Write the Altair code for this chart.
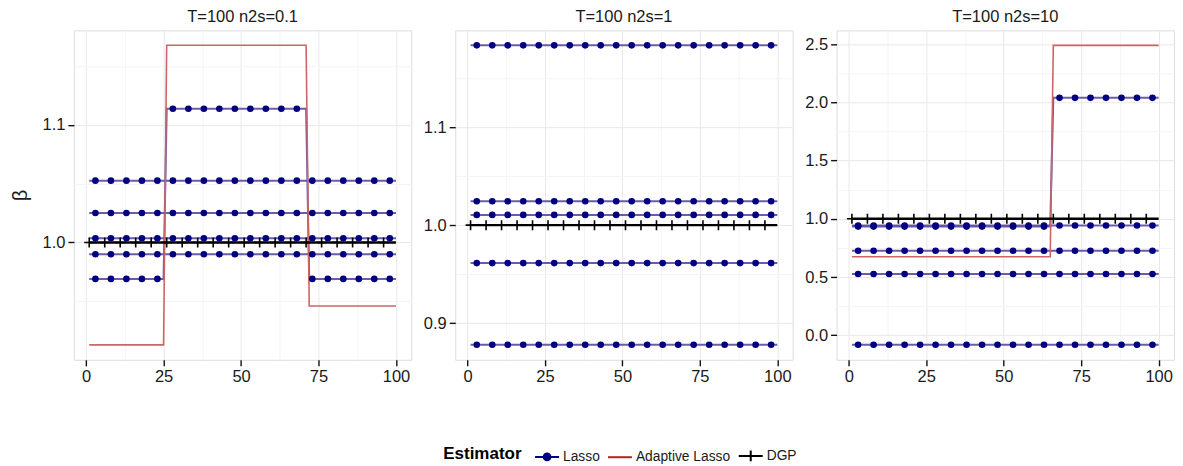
import altair as alt
import pandas as pd

# ---------------- data ----------------
PANELS = ["T=100 n2s=0.1", "T=100 n2s=1", "T=100 n2s=10"]
ESTIMATORS = ["Lasso", "Adaptive Lasso", "DGP"]

T_FIRST = 1
T_LAST = 100

# step paths: list of (first period of segment, value); a segment lasts until the next one starts
LASSO_P1 = [
    [(1, 0.969), (26, 1.1136), (72, 0.969)],
    [(1, 1.0525)],
    [(1, 1.025)],
    [(1, 1.0035)],
    [(1, 0.990)],
]
ADAPTIVE_P1 = [(1, 0.913), (26, 1.1675), (72, 0.946)]

LASSO_P2 = [
    [(1, 1.1834)],
    [(1, 1.0244)],
    [(1, 1.0105)],
    [(1, 0.9613)],
    [(1, 0.878)],
]
ADAPTIVE_P2 = []  # coincides with the Lasso paths

LASSO_P3 = [
    [(1, 0.933), (66, 2.038)],
    [(1, 0.942)],
    [(1, 0.725)],
    [(1, 0.526)],
    [(1, -0.082)],
]
ADAPTIVE_P3 = [(1, 0.674), (66, 2.489)]

DGP_VALUE = 1.0

LASSO_MARKER_T = [3, 8, 13, 18, 23, 28, 33, 38, 43, 48, 53, 58, 63, 68, 73, 78, 83, 88, 93, 98]
DGP_MARKER_T = [1, 6, 11, 16, 21, 26, 31, 36, 41, 46, 51, 56, 61, 66, 71, 76, 81, 86, 91, 96]

LASSO_PATHS = [LASSO_P1, LASSO_P2, LASSO_P3]
ADAPTIVE_PATHS = [ADAPTIVE_P1, ADAPTIVE_P2, ADAPTIVE_P3]

X_DOMAIN = [-3.95, 104.95]
X_MAJOR = [0, 25, 50, 75, 100]
X_MINOR = [12.5, 37.5, 62.5, 87.5]

Y_DOMAINS = [[0.9003, 1.1802], [0.8627, 1.1987], [-0.2106, 2.6176]]
Y_MAJOR = [[1.0, 1.1], [0.9, 1.0, 1.1], [0.0, 0.5, 1.0, 1.5, 2.0, 2.5]]
Y_MINOR = [[0.95, 1.05, 1.15], [0.95, 1.05, 1.15], [0.25, 0.75, 1.25, 1.75, 2.25]]

# ---------------- styling ----------------
FONT = "Liberation Sans"
LASSO_LINE = "#5a4a9e"
LASSO_POINT = "#000080"
ADAPTIVE_LINE = "#cc6666"
LEGEND_COLORS = ["#000080", "#b22222", "#000000"]
LEGEND_SHAPES = [
    "M-1,0H1M0.28,0A0.28,0.28 0 1,1 -0.28,0A0.28,0.28 0 1,1 0.28,0Z",
    "M-1,0H1",
    "M-1,0H1M0,-0.45V0.45",
]
CROSS = "M-1,0H1M0,-1V1"
MAJOR_GRID = "#e8e8e8"
MINOR_GRID = "#f4f4f4"


def step_vertices(path):
    out = []
    for i, (start, v) in enumerate(path):
        end = path[i + 1][0] - 1 if i + 1 < len(path) else T_LAST
        out.append((start, v))
        out.append((end, v))
    return out


def step_value(path, t):
    v = path[0][1]
    for start, val in path:
        if t >= start:
            v = val
    return v


def make_axis(majors, minors, fmt, title=None):
    test = "indexof(" + str(list(majors)) + ", datum.value) < 0"
    kw = dict(
        values=sorted(majors + minors),
        format=fmt,
        labelExpr="indexof(" + str(list(majors)) + ", datum.value) >= 0 ? datum.label : ''",
        domain=False,
        ticks=True,
        tickSize=6,
        tickWidth=1.4,
        tickColor="#111111",
        tickOpacity={"condition": {"test": test, "value": 0}, "value": 1},
        grid=True,
        gridColor={"condition": {"test": test, "value": MINOR_GRID}, "value": MAJOR_GRID},
        gridWidth=1,
        labelFont=FONT,
        labelFontSize=16.5,
        labelColor="#1a1a1a",
        labelPadding=3,
    )
    if title is not None:
        kw.update(title=title, titleFont=FONT, titleFontSize=20, titleFontWeight="normal",
                  titleColor="#1a1a1a", titlePadding=12)
    else:
        kw.update(title=None)
    return alt.Axis(**kw)


def panel(i):
    line_rows = []
    pt_rows = []
    for k, path in enumerate(LASSO_PATHS[i]):
        for t, v in step_vertices(path):
            line_rows.append({"t": t, "beta": v, "series": f"L{k}"})
        for t in LASSO_MARKER_T:
            pt_rows.append({"t": t, "beta": step_value(path, t), "series": f"L{k}"})
    lasso_lines = pd.DataFrame(line_rows)
    lasso_pts = pd.DataFrame(pt_rows)

    x = alt.X("t:Q", scale=alt.Scale(domain=X_DOMAIN, nice=False, zero=False),
              axis=make_axis(X_MAJOR, X_MINOR, "d"))
    y = alt.Y("beta:Q", scale=alt.Scale(domain=Y_DOMAINS[i], nice=False, zero=False),
              axis=make_axis(Y_MAJOR[i], Y_MINOR[i], ".1f", title=("β" if i == 0 else None)))

    layers = []
    layers.append(alt.Chart(lasso_lines).mark_line(color=LASSO_LINE, strokeWidth=2, opacity=0.9)
                  .encode(x=x, y=y, detail="series:N"))
    if ADAPTIVE_PATHS[i]:
        ad = pd.DataFrame([{"t": t, "beta": v} for t, v in step_vertices(ADAPTIVE_PATHS[i])])
        layers.append(alt.Chart(ad).mark_line(color=ADAPTIVE_LINE, strokeWidth=1.6).encode(x=x, y=y))
    dgp_line = pd.DataFrame({"t": [T_FIRST, T_LAST], "beta": [DGP_VALUE, DGP_VALUE]})
    layers.append(alt.Chart(dgp_line).mark_line(color="black", strokeWidth=2.4).encode(x=x, y=y))
    dgp_pts = pd.DataFrame({"t": DGP_MARKER_T, "beta": [DGP_VALUE] * len(DGP_MARKER_T)})
    layers.append(alt.Chart(dgp_pts).mark_point(shape=CROSS, filled=False, color="black",
                                                 strokeWidth=1.6, size=100, opacity=1)
                  .encode(x=x, y=y))
    layers.append(alt.Chart(lasso_pts).mark_circle(color=LASSO_POINT, size=44, opacity=1)
                  .encode(x=x, y=y))

    if i == 0:
        legend = alt.Legend(
            title="Estimator", orient="none", legendX=370, legendY=413,
            direction="horizontal", titleOrient="left", titleAnchor="middle", titleBaseline="middle",
            titleFont=FONT, titleFontSize=17, titleFontWeight="bold", titleColor="#000000",
            titlePadding=12,
            labelFont=FONT, labelFontSize=13.8, labelColor="#1a1a1a", labelOffset=3,
            columnPadding=4, symbolSize=576, symbolStrokeWidth=2, symbolOpacity=1,
        )
        leg_df = pd.DataFrame({"Estimator": ESTIMATORS})
        layers.append(
            alt.Chart(leg_df).transform_filter("false")
            .mark_point(filled=False, fill="#000080", opacity=1, strokeWidth=2)
            .encode(
                x=x, y=y,
                color=alt.Color("Estimator:N", scale=alt.Scale(domain=ESTIMATORS, range=LEGEND_COLORS),
                                legend=legend),
                shape=alt.Shape("Estimator:N", scale=alt.Scale(domain=ESTIMATORS, range=LEGEND_SHAPES),
                                legend=legend),
            )
        )

    return alt.layer(*layers).properties(
        width=338, height=330,
        title=alt.TitleParams(PANELS[i], font=FONT, fontSize=16.5, fontWeight="normal",
                              color="#1a1a1a", anchor="middle", offset=5),
    )


chart = alt.hconcat(panel(0), panel(1), panel(2), spacing=44, bounds="flush").properties(
    padding={"left": 1, "top": 0, "right": 0, "bottom": 0}
).configure_view(stroke=None).configure(background="white")

chart.save("out.html", embed_options={"renderer": "svg", "actions": False})
